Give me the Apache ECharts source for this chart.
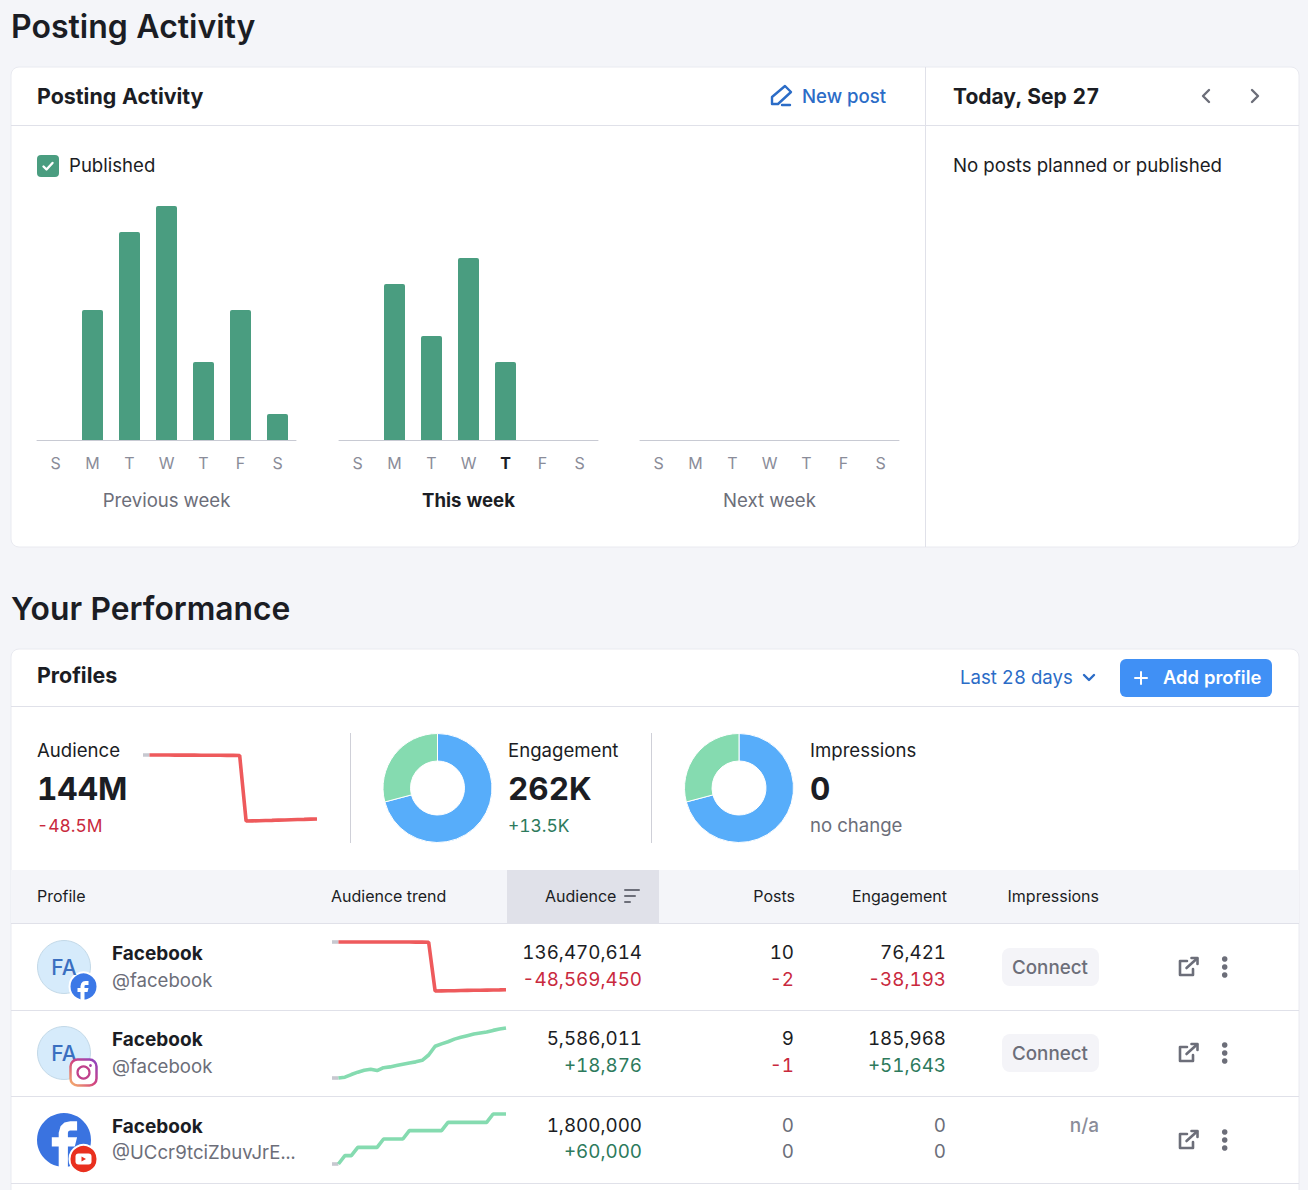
<!DOCTYPE html>
<html>
<head>
<meta charset="utf-8">
<title>Posting Activity</title>
<script src="https://cdn.jsdelivr.net/npm/echarts@6/dist/echarts.min.js"></script>
<style>
    html, body { margin: 0; padding: 0; background: #f4f5f9; }
    #contain { width: 1308px; height: 1190px; overflow: hidden; }
    #contain text { font-variant-numeric: tabular-nums !important; }
</style>
</head>
<body>
<div id="contain"></div>
<script>
// posts per day, Sunday first
var weekDays = ['S', 'M', 'T', 'W', 'T', 'F', 'S'];
var previousWeek = [0, 5, 8, 9, 3, 5, 1];
var thisWeek = [0, 6, 4, 7, 3, 0, 0];
var nextWeek = [0, 0, 0, 0, 0, 0, 0];

// audience trends, 28 days
var totalAudienceTrend = [192.5, 192.5, 192.5, 192.5, 192.5, 192.4, 192.4, 192.4, 192.4, 192.3, 192.3, 192.3, 192.3, 192.2, 192.2, 192.1, 142.5, 142.6, 142.7, 142.9, 143.0, 143.2, 143.3, 143.5, 143.6, 143.7, 143.9, 144.0];
var facebookTrend = [185.04, 185.04, 185.04, 185.03, 185.03, 185.03, 185.02, 185.02, 185.02, 185.01, 185.01, 185.0, 185.0, 184.9, 184.9, 184.8, 135.2, 135.3, 135.4, 135.5, 135.7, 135.8, 135.9, 136.0, 136.1, 136.2, 136.3, 136.47];
var instagramTrend = [5567.1, 5567.1, 5567.4, 5568.4, 5569.3, 5570.0, 5570.4, 5569.9, 5571.0, 5571.3, 5571.8, 5572.3, 5572.8, 5573.2, 5573.8, 5575.8, 5579.1, 5580.0, 5580.8, 5581.8, 5582.5, 5583.1, 5583.7, 5584.1, 5584.5, 5585.1, 5585.6, 5586.0];
var youtubeTrend = [1740, 1740, 1750, 1750, 1760, 1760, 1760, 1760, 1770, 1770, 1770, 1770, 1780, 1780, 1780, 1780, 1780, 1780, 1790, 1790, 1790, 1790, 1790, 1790, 1790, 1800, 1800, 1800];

// donut shares
var engagementShare = [185968, 76421];
var impressionsShare = [185968, 76421];

// table rows
var profileHandles = ['@facebook', '@facebook', '@UCcr9tciZbuvJrE...'];
var audienceTotals = ['136,470,614', '5,586,011', '1,800,000'];
var audienceChanges = ['-48,569,450', '+18,876', '+60,000'];
var postTotals = ['10', '9', '0'];
var postChanges = ['-2', '-1', '0'];
var engagementTotals = ['76,421', '185,968', '0'];
var engagementChanges = ['-38,193', '+51,643', '0'];

var FONT = 'Inter, "Noto Sans", sans-serif';
var DARK = '#1b1d24', GREY = '#6c6e79', LIGHTGREY = '#8a8c99', BLUE = '#2b6cc7';
var UP = '#2d7a5c', DOWN = '#c9293d', LINE = '#e0e1e9';
var BAR = '#4a9d80', RED = '#ee5a5c', GREEN = '#85dbb0', DONUT = '#57adfa', STUB = '#c7c8d0';

var g = [];

function txt(x, y, text, size, color, weight, align) {
    g.push({
        type: 'text', z: 5,
        style: {
            x: x, y: y, text: text, fill: color,
            font: (weight || 400) + ' ' + size + 'px ' + FONT,
            textAlign: align || 'left', textVerticalAlign: 'middle'
        }
    });
}
function rect(x, y, w, h, fill, r, stroke) {
    g.push({
        type: 'rect', z: stroke ? 1 : 2,
        shape: { x: x, y: y, width: w, height: h, r: r || 0 },
        style: { fill: fill, stroke: stroke || null, lineWidth: 1 }
    });
}
function stroke(points, color, width, closed) {
    g.push({
        type: closed ? 'polygon' : 'polyline', z: 5,
        shape: { points: points },
        style: { fill: null, stroke: color, lineWidth: width, lineCap: 'round', lineJoin: 'round' }
    });
}
function circle(x, y, r, fill, border, borderWidth) {
    g.push({
        type: 'circle', z: 4,
        shape: { cx: x, cy: y, r: r },
        style: { fill: fill, stroke: border || null, lineWidth: borderWidth || 1 }
    });
}
// the facebook f, outline on a 24 box
var F_SHAPE = [[17, 4], [14, 4], [11.5, 4.6], [9.8, 6.2], [9, 9], [9, 11], [6, 11], [6, 15], [9, 15], [9, 24], [13, 24], [13, 15], [16, 15], [17, 11], [13, 11], [13, 9], [13.3, 8.3], [14, 8], [17, 8]];
function fLogo(x, y, scale) {
    g.push({
        type: 'polygon', z: 6,
        shape: { points: F_SHAPE.map(function (p) { return [x + p[0] * scale, y + p[1] * scale]; }) },
        style: { fill: '#fff' }
    });
}

// page and cards
txt(11, 26, 'Posting Activity', 32, DARK, 600);
rect(11, 67, 1288, 480, '#fff', 8, '#e9eaf0');
rect(11, 125, 1288, 1, LINE);
rect(925, 67, 1, 480, LINE);
txt(37, 96, 'Posting Activity', 21.4, DARK, 700);
txt(802, 96, 'New post', 18.6, BLUE, 500);
stroke([[772, 104], [772, 97], [785, 86], [791, 92], [778, 104]], BLUE, 2.4, true);
stroke([[782, 105], [790, 105]], BLUE, 2.4);
txt(953, 96, 'Today, Sep 27', 21, DARK, 700);
stroke([[1209, 90], [1203, 96], [1209, 102]], GREY, 2.4);
stroke([[1252, 90], [1258, 96], [1252, 102]], GREY, 2.4);
txt(953, 165, 'No posts planned or published', 18.7, DARK);
rect(37, 155, 22, 22, BAR, 4);
stroke([[43.5, 166.5], [46.5, 169.5], [52.5, 163]], '#fff', 2.4);
txt(69, 165, 'Published', 18.6, DARK);

txt(11, 608, 'Your Performance', 31.8, DARK, 600);
rect(11, 649, 1288, 700, '#fff', 8, '#e9eaf0');
rect(11, 706, 1288, 1, LINE);
txt(37, 675, 'Profiles', 21.4, DARK, 700);
txt(960, 677, 'Last 28 days', 18.6, BLUE);
stroke([[1084, 675], [1089, 680], [1094, 675]], BLUE, 2.4);
rect(1120, 659, 152, 38, '#4090f5', 6);
stroke([[1135, 678], [1147, 678]], '#fff', 2);
stroke([[1141, 672], [1141, 684]], '#fff', 2);
txt(1163, 677, 'Add profile', 18.4, '#fff', 600);

// summary band
txt(37, 750, 'Audience', 18.6, DARK);
txt(37, 788, '144M', 31.5, DARK, 700);
txt(37, 825, '-48.5M', 17.4, DOWN);
rect(350, 733, 1, 110, '#cfd0d8');
txt(508, 750, 'Engagement', 18.6, DARK);
txt(508, 788, '262K', 31.5, DARK, 700);
txt(508, 825, '+13.5K', 17.4, UP);
rect(651, 733, 1, 110, '#cfd0d8');
txt(810, 750, 'Impressions', 18.6, DARK);
txt(810, 788, '0', 31.5, DARK, 700);
txt(810, 825, 'no change', 18.6, GREY);

// table header
rect(11, 870, 1288, 53, '#f4f5f9');
rect(507, 870, 152, 53, '#e0e1e9');
txt(37, 896, 'Profile', 16, DARK);
txt(331, 896, 'Audience trend', 16, DARK);
txt(545, 896, 'Audience', 16, DARK);
stroke([[625, 890], [639, 890]], GREY, 2);
stroke([[625, 896], [635, 896]], GREY, 2);
stroke([[625, 902], [630, 902]], GREY, 2);
txt(795, 896, 'Posts', 16, DARK, 400, 'right');
txt(947, 896, 'Engagement', 16, DARK, 400, 'right');
txt(1099, 896, 'Impressions', 16, DARK, 400, 'right');

// table rows
var rowCenters = [967, 1053, 1140];
rect(11, 923, 1288, 1, LINE);
for (var i = 0; i < rowCenters.length; i++) {
    var c = rowCenters[i];
    var rowUpper = c - 14.5, rowLower = i == 2 ? c + 11.5 : c + 12.5;
    rect(11, c + 43, 1288, 1, LINE);
    txt(112, c - 14, 'Facebook', 19, DARK, 700);
    txt(112, rowLower + 0.5, profileHandles[i], 18.6, GREY);
    txt(642, rowUpper, audienceTotals[i], 18.8, DARK, 400, 'right');
    txt(642, rowLower, audienceChanges[i], 18.8, audienceChanges[i].charAt(0) == '-' ? DOWN : UP, 400, 'right');
    txt(794, rowUpper, postTotals[i], 18.8, i == 2 ? GREY : DARK, 400, 'right');
    txt(794, rowLower, postChanges[i], 18.8, i == 2 ? GREY : DOWN, 400, 'right');
    txt(946, rowUpper, engagementTotals[i], 18.8, i == 2 ? GREY : DARK, 400, 'right');
    txt(946, rowLower, engagementChanges[i], 18.8, i == 2 ? GREY : (engagementChanges[i].charAt(0) == '-' ? DOWN : UP), 400, 'right');
    if (i < 2) {
        rect(1002, c - 19, 97, 38, '#f4f4f8', 8);
        txt(1050, c, 'Connect', 18.8, GREY, 500, 'center');
    } else {
        txt(1099, c - 15, 'n/a', 19, LIGHTGREY, 500, 'right');
    }
    // open link and menu icons
    stroke([[1187, c - 6], [1180, c - 6], [1180, c + 8], [1193, c + 8], [1193, c + 2]], GREY, 2.6);
    stroke([[1186.5, c + 1], [1197, c - 8.5]], GREY, 2.6);
    stroke([[1191.5, c - 9], [1197.5, c - 9], [1197.5, c - 3]], GREY, 2.6);
    circle(1224.7, c - 8, 2.8, GREY);
    circle(1224.7, c, 2.8, GREY);
    circle(1224.7, c + 8, 2.8, GREY);
}

// avatars
circle(64, 967, 26.5, '#d6ebfb', '#c3d9e8', 1);
txt(64, 967, 'FA', 21, '#3a6fc0', 500, 'center');
circle(83.5, 986.5, 14, '#3b78e7', '#fff', 2);
fLogo(71.5, 977, 1.0);

circle(64, 1053, 26.5, '#d6ebfb', '#c3d9e8', 1);
txt(64, 1053, 'FA', 21, '#3a6fc0', 500, 'center');
g.push({
    type: 'rect', z: 6,
    shape: { x: 70.5, y: 1059.5, width: 26, height: 26, r: 7 },
    style: {
        fill: '#fff', lineWidth: 2.5,
        stroke: {
            type: 'linear', x: 0, y: 1, x2: 1, y2: 0,
            colorStops: [{ offset: 0, color: '#f6b26b' }, { offset: 0.5, color: '#d2437f' }, { offset: 1, color: '#8a44c4' }]
        }
    }
});
g.push({ type: 'circle', z: 7, shape: { cx: 83.5, cy: 1072.5, r: 6 }, style: { fill: null, stroke: '#c0418c', lineWidth: 2.2 } });
g.push({ type: 'circle', z: 7, shape: { cx: 90.5, cy: 1065.5, r: 1.4 }, style: { fill: '#a844a8' } });

circle(64, 1140, 27, '#3a73e0');
fLogo(38, 1112, 2.3);
circle(83.5, 1159, 14, '#e9301e', '#fff', 2);
g.push({ type: 'rect', z: 7, shape: { x: 75.5, y: 1153.5, width: 16, height: 11, r: 3 }, style: { fill: '#fff' } });
g.push({ type: 'polygon', z: 8, shape: { points: [[81.5, 1156.5], [81.5, 1161.5], [86, 1159]] }, style: { fill: '#e9301e' } });

// charts
var grids = [], xAxes = [], yAxes = [], series = [];

function addWeek(left, name, values, nameStyle, boldDay) {
    var idx = grids.length;
    grids.push({ left: left, top: 206, width: 259, height: 234 });
    xAxes.push({
        gridIndex: idx, type: 'category', z: 3,
        data: weekDays.map(function (d, n) {
            return n === boldDay ? { value: d, textStyle: { color: DARK, fontWeight: 700 } } : d;
        }),
        axisLine: { lineStyle: { color: '#c8cad3', width: 1 } },
        axisTick: { show: false },
        axisLabel: { color: LIGHTGREY, fontSize: 16, margin: 15, fontFamily: FONT, interval: 0 },
        name: name, nameLocation: 'middle', nameGap: 50,
        nameTextStyle: Object.assign({ fontSize: 18.6, fontFamily: FONT }, nameStyle)
    });
    yAxes.push({ gridIndex: idx, type: 'value', min: 0, max: 9, show: false });
    series.push({
        type: 'bar', xAxisIndex: idx, yAxisIndex: idx, data: values, barWidth: 21,
        itemStyle: { color: BAR, borderRadius: [2, 2, 0, 0] }
    });
}

function addSpark(left, sparkTop, height, values, color) {
    var idx = grids.length;
    grids.push({ left: left, top: sparkTop, width: 174, height: height });
    xAxes.push({ gridIndex: idx, type: 'category', boundaryGap: false, show: false, data: values.map(function (v, n) { return n; }) });
    yAxes.push({ gridIndex: idx, type: 'value', show: false, min: 'dataMin', max: 'dataMax' });
    var lineOpts = { type: 'line', xAxisIndex: idx, yAxisIndex: idx, symbol: 'none', clip: false };
    series.push(Object.assign({}, lineOpts, { data: values.slice(0, 2), lineStyle: { color: STUB, width: 3.6, cap: 'butt' } }));
    series.push(Object.assign({}, lineOpts, { data: [null].concat(values.slice(1)), lineStyle: { color: color, width: 3.6, cap: 'butt' } }));
}

function addDonut(x, y, values) {
    series.push({
        type: 'pie', center: [x, y], radius: [27, 54.5], startAngle: 90, clockwise: true, silent: true,
        label: { show: false }, labelLine: { show: false },
        itemStyle: { borderColor: '#fff', borderWidth: 1 },
        color: [DONUT, GREEN],
        data: values
    });
}

addWeek(37, 'Previous week', previousWeek, { color: GREY });
addWeek(339, 'This week', thisWeek, { color: DARK, fontWeight: 700 }, 4);
addWeek(640, 'Next week', nextWeek, { color: GREY });

addSpark(143, 755, 66, totalAudienceTrend, RED);
addSpark(332, 942, 49, facebookTrend, RED);
addSpark(332, 1028, 50, instagramTrend, GREEN);
addSpark(332, 1114, 50, youtubeTrend, GREEN);

addDonut(437.5, 788, engagementShare);
addDonut(739, 788, impressionsShare);

var myChart = echarts.init(document.getElementById('contain'), null, { renderer: 'svg', width: 1308, height: 1190 });
myChart.setOption({
    animation: false,
    backgroundColor: '#f4f5f9',
    textStyle: { fontFamily: FONT },
    graphic: { elements: g },
    grid: grids,
    xAxis: xAxes,
    yAxis: yAxes,
    series: series
});
</script>
</body>
</html>
